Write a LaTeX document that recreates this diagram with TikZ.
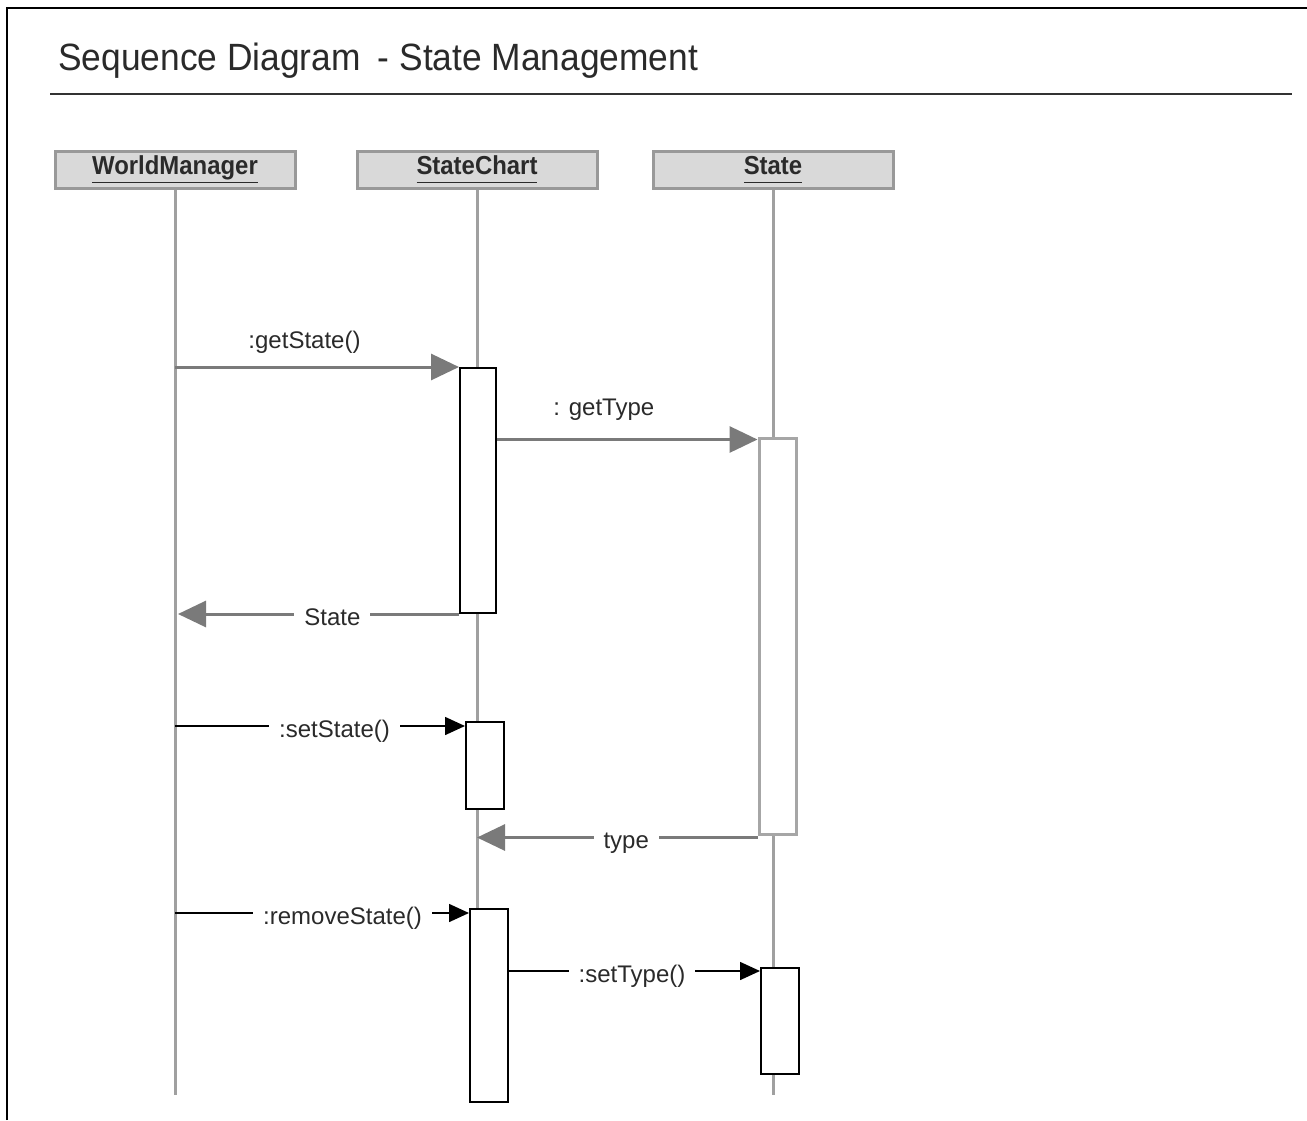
\documentclass[tikz,border=0pt]{standalone}
\usepackage{fontspec}
\setmainfont{Liberation Sans}
\newfontfamily\titlefont[FakeStretch=0.93]{Liberation Sans}
\newfontfamily\headfont[FakeStretch=0.92]{Liberation Sans}
\usetikzlibrary{arrows.meta}
\definecolor{lifegray}{HTML}{A0A0A0}
\definecolor{headfill}{HTML}{D9D9D9}
\definecolor{headborder}{HTML}{999999}
\definecolor{msggray}{HTML}{7A7A7A}
\definecolor{actgray}{HTML}{A6A6A6}
\definecolor{textc}{HTML}{2A2A2A}
\newcommand{\headname}[1]{\underline{\vphantom{g}#1}}
\begin{document}
\begin{tikzpicture}[x=0.5pt,y=-0.5pt,
  head/.style={draw=headborder, fill=headfill, line width=1.5pt,
    minimum width=120pt, minimum height=18.5pt, inner sep=0pt,
    text height=9pt, text depth=4pt,
    text=textc, font=\headfont\fontsize{13}{15}\selectfont\bfseries},
  lifeline/.style={draw=lifegray, line width=1.5pt},
  act/.style={draw=black, fill=white, line width=1pt, inner sep=0pt},
  actsoft/.style={draw=actgray, fill=white, line width=1.5pt, inner sep=0pt},
  callmsg/.style={draw=msggray, line width=1.5pt,
    -{Triangle[length=14pt,width=13pt,fill=msggray]}},
  syncmsg/.style={draw=black, line width=0.8pt,
    -{Triangle[length=10pt,width=9pt]}},
  lbl/.style={fill=white, inner sep=5pt, text=textc,
    text height=8.5pt, text depth=1.5pt, yshift=-2pt,
    font=\fontsize{12}{14}\selectfont},
  toplbl/.style={anchor=base, inner sep=0pt, text=textc,
    font=\fontsize{12}{14}\selectfont}]
\useasboundingbox (0,0) rectangle (1307,1120);

% frame and title
\draw[black, line width=1pt] (7,1120) -- (7,8) -- (1307,8);
\node[anchor=base west, inner sep=0pt, text=textc,
  font=\titlefont\fontsize{19}{23}\selectfont] (title) at (58,70)
  {Sequence Diagram\hspace{0.45em}- State Management};
\coordinate (ruleL) at (50,94);
\coordinate (ruleR) at (1292,94);
\draw[black!80, line width=1pt] (ruleL) -- (ruleR);

% lifeline heads
\node[head] (wm) at (175,169.5) {\headname{WorldManager}};
\node[head] (sc) at (477,169.5) {\headname{StateChart}};
\node[head] (st) at (773,169.5) {\headname{State}};

% lifelines
\coordinate (wmEnd) at (175,1095);
\coordinate (scEnd) at (477,1100);
\coordinate (stEnd) at (773,1095);
\draw[lifeline] (wm.south) -- (wmEnd);
\draw[lifeline] (sc.south) -- (scEnd);
\draw[lifeline] (st.south) -- (stEnd);

% activation bars
\node[act, minimum width=18pt, minimum height=122.5pt] (sc1) at (478,490.5) {};
\node[actsoft, minimum width=18.5pt, minimum height=198pt] (st1) at (777.5,636) {};
\node[act, minimum width=19pt, minimum height=43.5pt] (sc2) at (485,765.5) {};
\node[act, minimum width=19pt, minimum height=96.5pt] (sc3) at (489,1005.5) {};
\node[act, minimum width=19pt, minimum height=53pt] (st2) at (780,1021) {};

% messages
\draw[callmsg] (sc1.north west -| wm) --
  node[toplbl, pos=0.456, yshift=9.5pt] (mGetState) {:getState()} (sc1.north west);
\draw[callmsg] ([yshift=-1.5pt]sc1.north east |- st1.north west) --
  node[toplbl, pos=0.41, yshift=12pt] (mGetType) {: getType} ([yshift=-1.5pt]st1.north west);
\draw[callmsg, shorten >=1.5pt] (sc1.south west) --
  node[lbl, pos=0.446] (mState) {State} (sc1.south west -| wm);
\draw[syncmsg] ([yshift=-2.5pt]sc2.north west -| wm) --
  node[lbl, pos=0.55] (mSetState) {:setState()} ([yshift=-2.5pt]sc2.north west);
\draw[callmsg] ([yshift=-1pt]st1.south west) --
  node[lbl, pos=0.468] (mType) {type} ([yshift=-1pt]st1.south west -| sc);
\draw[syncmsg] ([yshift=-2.5pt]sc3.north west -| wm) --
  node[lbl, pos=0.57] (mRemove) {:removeState()} ([yshift=-2.5pt]sc3.north west);
\draw[syncmsg] ([yshift=-2pt]st2.north west -| sc3.east) --
  node[lbl, pos=0.49] (mSetType) {:setType()} ([yshift=-2pt]st2.north west);
\end{tikzpicture}
\end{document}
